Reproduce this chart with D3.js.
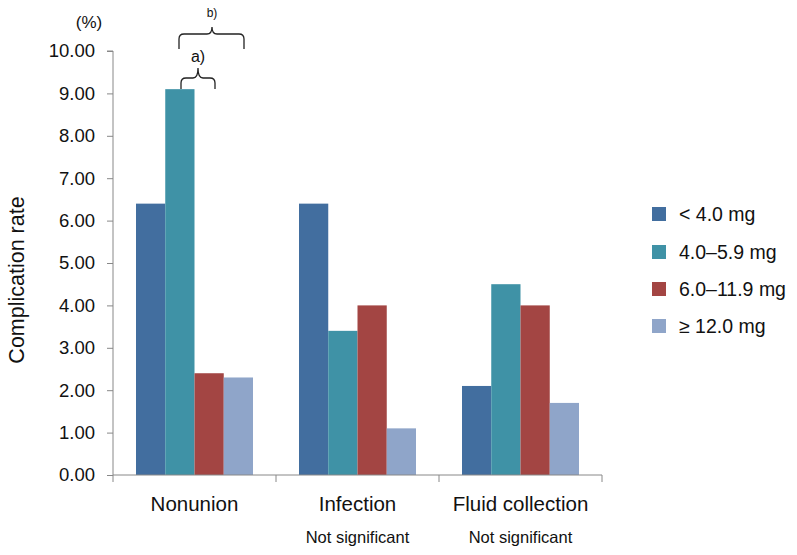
<!DOCTYPE html>
<html><head><meta charset="utf-8">
<script src="https://cdn.jsdelivr.net/npm/d3@7"></script>
<style>body{margin:0;background:#fff}svg{display:block;font-family:"Liberation Sans",Arial,sans-serif}</style>
</head><body><svg id="c" width="797" height="555"></svg>
<script>
const categories = ["Nonunion", "Infection", "Fluid collection"];
const subLabels = ["", "Not significant", "Not significant"];
const seriesNames = ["< 4.0 mg", "4.0\u20135.9 mg", "6.0\u201311.9 mg", "\u2265 12.0 mg"];
const seriesColors = ["#426e9f", "#3f92a6", "#a34543", "#8fa5c9"];
const lt4 = [6.4, 6.4, 2.1];
const s4to6 = [9.1, 3.4, 4.5];
const s6to12 = [2.4, 4.0, 4.0];
const ge12 = [2.3, 1.1, 1.7];
const yTicks = [0,1,2,3,4,5,6,7,8,9,10];
const series = [lt4, s4to6, s6to12, ge12];

const svg = d3.select("#c");
const x0 = d3.scaleBand().domain(categories).range([113, 602]).paddingInner(0).paddingOuter(0);
const x1 = d3.scaleBand().domain(d3.range(4)).range([23, x0.bandwidth()-23]).padding(0);
const y = d3.scaleLinear().domain([0, 10]).range([475, 51]);

// bars
categories.forEach((c, ci) => {
  series.forEach((s, si) => {
    svg.append("rect")
      .attr("x", x0(c) + x1(si))
      .attr("width", x1.bandwidth())
      .attr("y", y(s[ci]))
      .attr("height", y(0) - y(s[ci]))
      .attr("fill", seriesColors[si]);
  });
});

// y axis
const ya = svg.append("g").attr("transform", "translate(113,0)")
  .call(d3.axisLeft(y).tickValues(yTicks).tickFormat(d3.format(".2f")).tickSize(6).tickPadding(12));
ya.select(".domain").attr("stroke", "#888").attr("d", "M-6,51H0V475");
ya.selectAll(".tick line").attr("stroke", "#888");
ya.selectAll(".tick text").attr("font-size", 18.5).attr("fill", "#111").attr("font-family", "Liberation Sans, Arial, sans-serif");

// x axis
const xa = svg.append("g").attr("transform", "translate(0,475)");
xa.append("line").attr("x1", 113).attr("x2", 602).attr("y1", 0).attr("y2", 0).attr("stroke", "#888");
[...categories.map(c => x0(c)), 602].forEach(v => {
  xa.append("line").attr("x1", v).attr("x2", v).attr("y1", 0).attr("y2", 7).attr("stroke", "#888");
});
categories.forEach((c, i) => {
  svg.append("text").attr("x", x0(c) + x0.bandwidth()/2).attr("y", 511)
    .attr("text-anchor", "middle").attr("font-size", 20.5).attr("fill", "#111").text(c);
  if (subLabels[i]) svg.append("text").attr("x", x0(c) + x0.bandwidth()/2).attr("y", 543)
    .attr("text-anchor", "middle").attr("font-size", 16.5).attr("fill", "#111").text(subLabels[i]);
});

// axis title and unit
svg.append("text").attr("transform", "translate(24,280) rotate(-90)").attr("text-anchor", "middle")
  .attr("font-size", 21.5).attr("fill", "#111").text("Complication rate");
svg.append("text").attr("x", 89).attr("y", 28).attr("text-anchor", "middle")
  .attr("font-size", 17).attr("fill", "#111").text("(%)");

// brackets
function bracket(xl, xr, yTop, yEnd, xp, yp) {
  const r = 5;
  return `M${xl},${yEnd} L${xl},${yTop+r} Q${xl},${yTop} ${xl+r},${yTop} L${xp-r},${yTop} Q${xp},${yTop} ${xp},${yp} Q${xp},${yTop} ${xp+r},${yTop} L${xr-r},${yTop} Q${xr},${yTop} ${xr},${yTop+r} L${xr},${yEnd}`;
}
svg.append("path").attr("d", bracket(179, 244, 34, 49, 212, 27)).attr("fill", "none").attr("stroke", "#222").attr("stroke-width", 1.3);
svg.append("path").attr("d", bracket(181, 215, 78, 89, 198, 68)).attr("fill", "none").attr("stroke", "#222").attr("stroke-width", 1.3);
svg.append("text").attr("x", 212).attr("y", 17).attr("text-anchor", "middle").attr("font-size", 12).attr("fill", "#111").text("b)");
svg.append("text").attr("x", 198).attr("y", 62).attr("text-anchor", "middle").attr("font-size", 16).attr("fill", "#111").text("a)");

// legend
const legY = [214, 252, 289, 326];
seriesNames.forEach((n, i) => {
  svg.append("rect").attr("x", 652).attr("y", legY[i] - 7).attr("width", 14).attr("height", 14).attr("fill", seriesColors[i]);
  svg.append("text").attr("x", 679).attr("y", legY[i] + 7).attr("font-size", 19.5).attr("fill", "#111").text(n);
});
</script></body></html>
